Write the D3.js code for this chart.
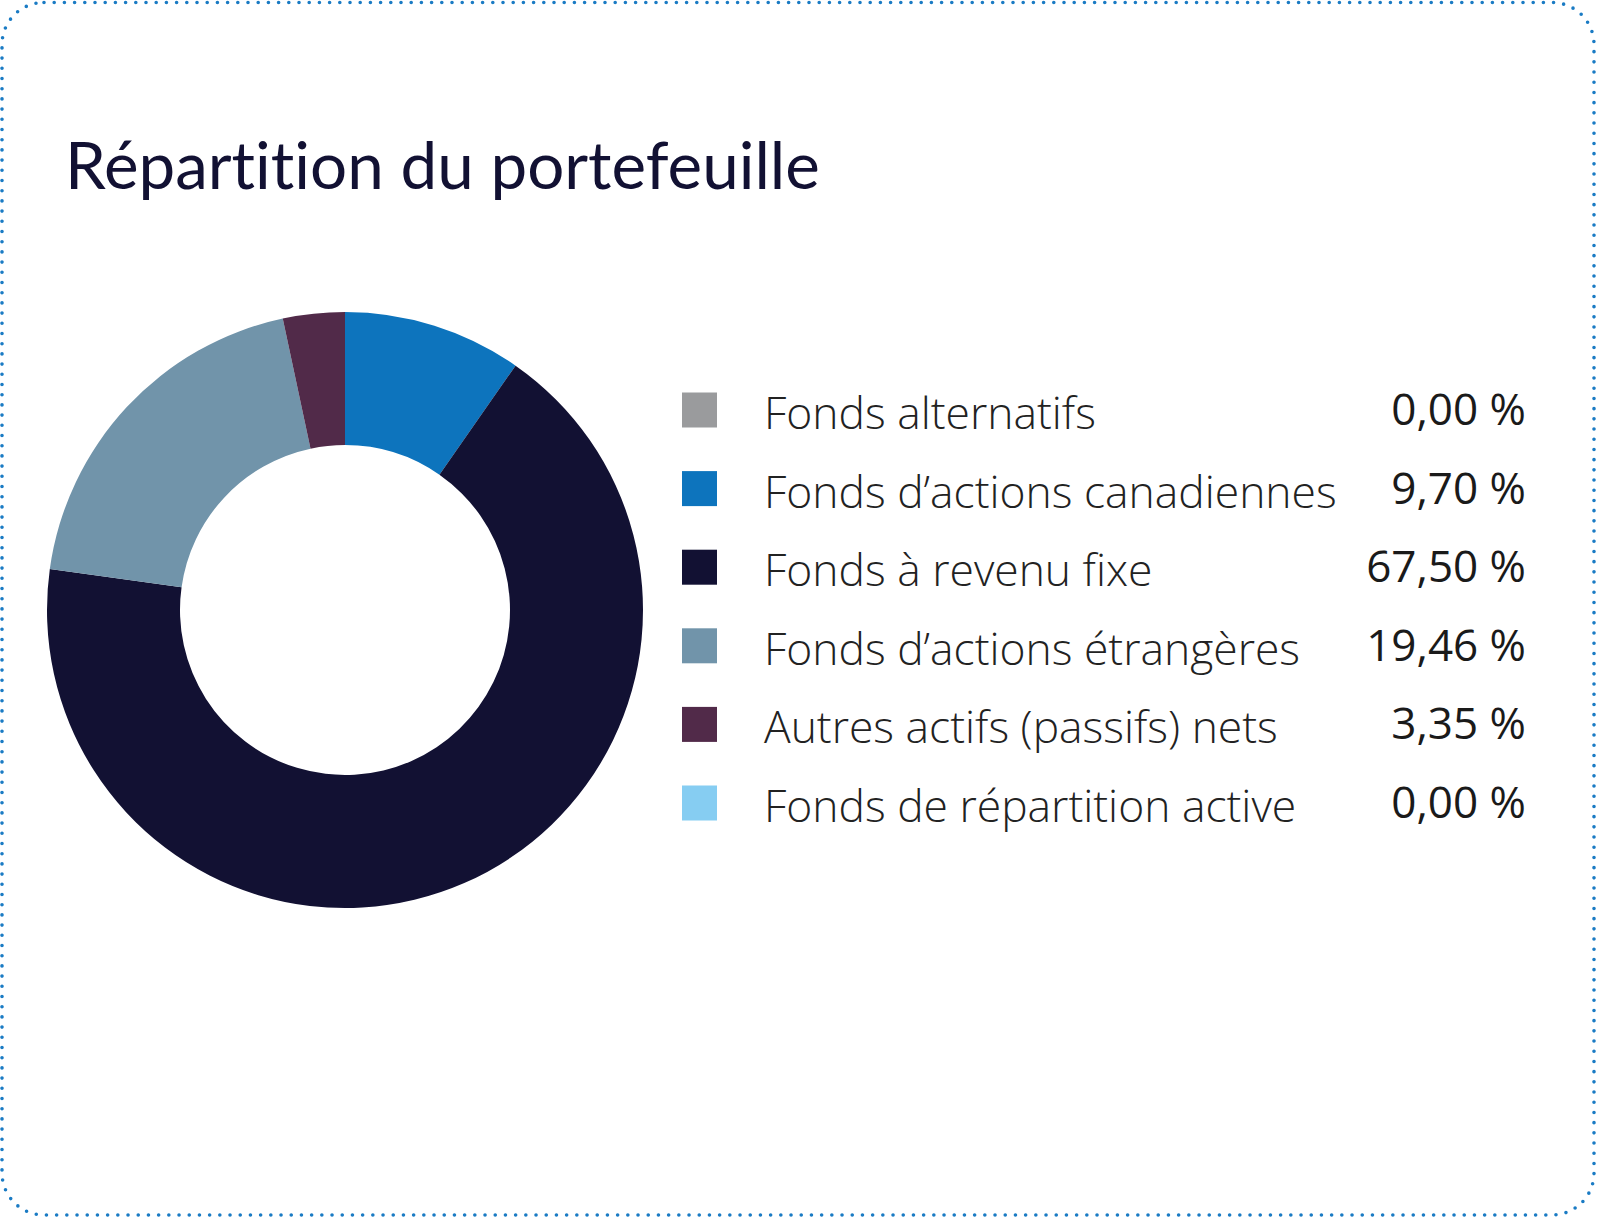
<!DOCTYPE html>
<html>
<head>
<meta charset="utf-8">
<script src="https://cdn.jsdelivr.net/npm/d3@7"></script>
<style>
  body { margin: 0; background: #fff; }
  svg { display: block; }
  text { font-variant-ligatures: none; }
</style>
</head>
<body>
<svg id="chart"></svg>
<script>
// données du graphique
var categories = ["Fonds alternatifs", "Fonds d\u2019actions canadiennes", "Fonds \u00e0 revenu fixe",
  "Fonds d\u2019actions \u00e9trang\u00e8res", "Autres actifs (passifs) nets", "Fonds de r\u00e9partition active"];
var values = [0.00, 9.70, 67.50, 19.46, 3.35, 0.00];
var colors = ["#9a9b9d", "#0d74bd", "#121133", "#7194aa", "#512a49", "#86cdf2"];
var title = "R\u00e9partition du portefeuille";

var W = 1597, H = 1217;
var svg = d3.select("#chart").attr("width", W).attr("height", H);

// cadre pointillé
svg.append("rect")
  .attr("x", 2).attr("y", 2.5)
  .attr("width", W - 5).attr("height", H - 4.5)
  .attr("rx", 42).attr("ry", 42)
  .attr("fill", "none")
  .attr("stroke", "#1a7bc4")
  .attr("stroke-width", 3.6)
  .attr("stroke-linecap", "round")
  .attr("stroke-dasharray", "0 10.2");

svg.append("text")
  .attr("x", 65).attr("y", 189)
  .style("font-family", "Lato, 'Noto Sans', sans-serif")
  .style("font-size", "65.5px")
  .style("fill", "#121133")
  .text(title);

// anneau
var cx = 345, cy = 610, outerR = 298, innerR = 165;
var data = categories.map(function (c, i) { return { name: c, value: values[i], color: colors[i] }; });

var pie = d3.pie().sort(null).value(function (d) { return d.value; });
var arc = d3.arc().innerRadius(innerR).outerRadius(outerR);

var g = svg.append("g").attr("transform", "translate(" + cx + "," + cy + ")");
g.selectAll("path")
  .data(pie(data).filter(function (d) { return d.data.value > 0; }))
  .enter().append("path")
  .attr("d", arc)
  .attr("fill", function (d) { return d.data.color; });

// légende
var legendTop = 410, rowH = 78.6;
var y = d3.scalePoint().domain(categories).range([legendTop, legendTop + rowH * (categories.length - 1)]);
var fmt = function (v) { return v.toFixed(2).replace(".", ",") + " %"; };

var row = svg.selectAll(".row")
  .data(data)
  .enter().append("g")
  .attr("class", "row")
  .attr("transform", function (d) { return "translate(0," + y(d.name) + ")"; });

row.append("rect")
  .attr("x", 682).attr("y", -17.5)
  .attr("width", 35).attr("height", 35)
  .attr("fill", function (d) { return d.color; });

row.append("text")
  .attr("x", 764).attr("y", 19)
  .style("font-family", "'Open Sans', sans-serif")
  .style("font-weight", 300)
  .style("font-size", "44.4px")
  .style("fill", "#222")
  .text(function (d) { return d.name; });

row.append("text")
  .attr("x", 1526).attr("y", 15)
  .attr("text-anchor", "end")
  .style("font-family", "'Open Sans', sans-serif")
  .style("font-weight", 400)
  .style("font-size", "44px")
  .style("fill", "#1a1a1a")
  .text(function (d) { return fmt(d.value); });
</script>
</body>
</html>
